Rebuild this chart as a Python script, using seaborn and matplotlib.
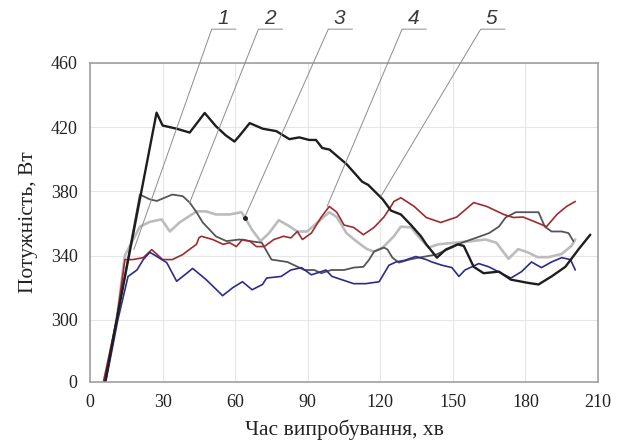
import numpy as np
import pandas as pd
import matplotlib
matplotlib.use("Agg")
import matplotlib.pyplot as plt
import seaborn as sns

# =============================================
# 1. DATA
# =============================================
# curve: thick black
black_x = [6.2, 11, 27.5, 30, 35.8, 41.2, 47.4, 52, 56, 59.7, 62, 66, 71.4, 77, 82.4,
           86.5, 90.6, 93.4, 96, 99, 106, 112.5, 115, 121, 124.4, 128.5, 132.7, 136.8,
           139, 143.4, 147, 152, 154.5, 158.6, 162.7, 169, 174, 181, 185.4, 190.8,
           196.5, 202, 206.8]
black_y = [0, 300, 429, 421, 419, 416.6, 428.8, 420.6, 415, 411, 415, 422.5, 419, 417.5,
           412.5, 413.6, 412, 412, 407, 406, 397, 386, 384, 375, 368, 365.6, 359, 352,
           347, 338.7, 343.7, 347, 346, 333, 329, 330, 325, 323, 322, 327,
           333, 344, 353]

# curve: dark grey
dgrey_x = [6.2, 11, 20.6, 24.7, 27.6, 34, 38.3, 41.2, 44, 46.6, 52, 56.4, 61.8, 66, 71,
           75, 81.6, 88.6, 92.7, 95.6, 99.7, 105, 109, 113, 115.4, 117.4, 121.5, 123,
           125, 127.7, 132, 137, 143, 149.6, 153.7, 159.5, 165, 169, 171.8, 176, 182.5,
           185.4, 188, 190.8, 195, 197.8, 199.8]
dgrey_y = [0, 300, 378, 375, 374, 378, 377, 373, 367, 360.6, 352, 349, 350, 349, 348,
           337.5, 336, 331, 331, 329, 331, 331, 332.5, 333, 337.5, 342.5, 345, 343.7,
           338.7, 335.6, 337.5, 339, 340.6, 345, 348, 351, 354, 358, 363.7, 367, 367,
           367, 358, 355, 355, 354, 349]

# curve: light grey
lgrey_x = [6.2, 11, 14.4, 20.6, 24.7, 29.6, 33, 37, 44, 48, 52, 57.7, 62.6, 63.9, 67,
           70.5, 74, 78, 81.6, 85.7, 89.8, 94, 98.9, 102, 106, 110, 114.5, 117.4, 121,
           125.6, 128.5, 132.7, 136.8, 140, 144, 151, 158, 163.5, 168, 173, 177, 181,
           185, 189.5, 195, 199, 200.6]
lgrey_y = [0, 300, 340, 358, 361, 362.5, 355, 360.6, 367.5, 367.5, 365.6, 365.6, 367,
           364, 356, 349, 354, 362, 359, 355, 355, 360.6, 367, 364, 354, 349, 344, 342.5,
           345, 352, 358, 357.5, 350, 345, 347, 348, 349, 350, 348, 338, 344, 342,
           339, 339, 341, 346, 350]

# curve: dark red
red_x = [5.5, 11, 14.4, 17.7, 22, 25.5, 30, 34, 38.3, 41, 44, 45, 46, 50.7, 55, 57.7,
         60.5, 63, 66, 68.8, 72, 76, 80, 83, 85.7, 87.8, 91.5, 95.6, 98.9, 102, 105,
         109, 113, 117.4, 121.5, 124.4, 125.6, 128.5, 134, 139, 145, 151.6, 158.6, 164,
         171, 175, 179, 184.6, 188.7, 193, 197, 200.6]
red_y = [0, 300, 337.5, 337.5, 338.7, 343.7, 337.5, 337.5, 340.6, 343.7, 347, 351, 352,
         350, 347, 348, 345.6, 350, 349, 345.6, 345.6, 350, 352, 351, 355, 350, 354,
         364, 370.6, 367, 359, 357.5, 353, 357.5, 364, 370.6, 373.7, 376, 370.6, 363.7,
         360.6, 364, 373, 370.6, 365.6, 363.7, 364, 360.6, 358, 365.6, 370.6, 373.7]

# curve: blue
blue_x = [6.5, 11.5, 15.7, 19.4, 22, 24.7, 27, 31.7, 35.8, 40, 42.4, 48, 52.3, 54.8, 59,
          63, 67, 71.3, 73, 79, 83, 87.4, 91.5, 95.6, 97.5, 100, 104, 109, 114, 119.5,
          123.6, 126.5, 130, 134.7, 139, 141.3, 145.4, 149.6, 152.5, 155, 160.7, 164.8,
          170, 174, 178.4, 182.5, 186.6, 190.8, 195, 198.6, 200.6]
blue_y = [0, 300, 327, 331, 337.5, 342, 340, 335.6, 324, 329, 332, 325, 318.7, 315, 320,
          323.7, 318.7, 322, 326, 327, 331, 332.5, 328, 330, 331, 327, 325, 322.5, 322.5,
          323.7, 334, 336, 337, 339.4, 337.5, 336, 334, 332.5, 327, 331, 335, 333,
          329, 326, 330, 336, 332.5, 336, 338.7, 337.5, 331]

# callout numbers and where their leader lines touch the curves
callout_labels = ["1", "2", "3", "4", "5"]
callout_tip_x = [18.1, 41.2, 63.9, 98.0, 120.3]
callout_tip_y = [343.7, 373.0, 363.7, 370.6, 377.0]
callout_top_x = [50.3, 69.6, 98.5, 129.0, 161.5]

x_ticks = [0, 30, 60, 90, 120, 150, 180, 210]
y_ticks = [0, 300, 340, 380, 420, 460]

# =============================================
# 2. STYLE
# =============================================
sns.set_theme(style="whitegrid")
plt.rcParams["font.family"] = ["Liberation Serif", "DejaVu Serif"]

series = [
    (lgrey_x, lgrey_y, "#bcbcbc", 1.9),
    (dgrey_x, dgrey_y, "#555555", 1.3),
    (red_x, red_y, "#9e2b2f", 1.2),
    (blue_x, blue_y, "#2c2c8c", 1.2),
    (black_x, black_y, "#1e1e1e", 1.7),
]

# broken y axis: 0..300 squeezed into the space of ~39 units
BREAK = 300.0
LOW = 261.25


def fwd(v):
    v = np.asarray(v, dtype=float)
    return np.where(v < BREAK, LOW + v * (BREAK - LOW) / BREAK, v)


def inv(v):
    v = np.asarray(v, dtype=float)
    return np.where(v < BREAK, (v - LOW) * BREAK / (BREAK - LOW), v)


# =============================================
# 3. PLOT
# =============================================
fig = plt.figure(figsize=(6.21, 4.46), dpi=100)
ax = fig.add_axes([0.145, 0.1435, 0.818, 0.7155])

for xs, ys, col, lw in series:
    df = pd.DataFrame({"t": xs, "p": ys})
    sns.lineplot(data=df, x="t", y="p", color=col, linewidth=lw,
                 estimator=None, sort=False, ax=ax,
                 solid_joinstyle="round", solid_capstyle="round")

ax.set_yscale("function", functions=(fwd, inv))
ax.set_xlim(0, 210)
ax.set_ylim(0, 460)
ax.set_xticks(x_ticks)
ax.set_yticks(y_ticks)
ax.tick_params(axis="both", length=0, pad=9, labelsize=13, colors="#222222")
ax.grid(True, color="#e6e6e6", linewidth=0.8)
for sp in ax.spines.values():
    sp.set_visible(True)
    sp.set_color("#a0a0a0")
    sp.set_linewidth(1.2)

ax.set_xlabel("Час випробування, хв", fontsize=15.5, color="#222222", labelpad=6)
ax.set_ylabel("Потужність, Вт", fontsize=15.5, color="#222222", labelpad=9)

# leader lines with numbers
top_y = 481.0
for lab, tx, ty, sx in zip(callout_labels, callout_tip_x, callout_tip_y, callout_top_x):
    ax.plot([tx, sx, sx + 10], [ty, top_y, top_y], color="#8c8c8c",
            linewidth=0.7, clip_on=False, zorder=5)
    ax.text(sx + 4.6, top_y + 0.5, lab, ha="center", va="bottom", fontsize=15,
            style="italic", color="#3a3a3a", family=["Liberation Sans", "DejaVu Sans"],
            clip_on=False)
ax.plot(callout_tip_x[2], callout_tip_y[2], "o", color="#222222", markersize=2.5,
        zorder=6)

fig.savefig("out.png", dpi=100)
